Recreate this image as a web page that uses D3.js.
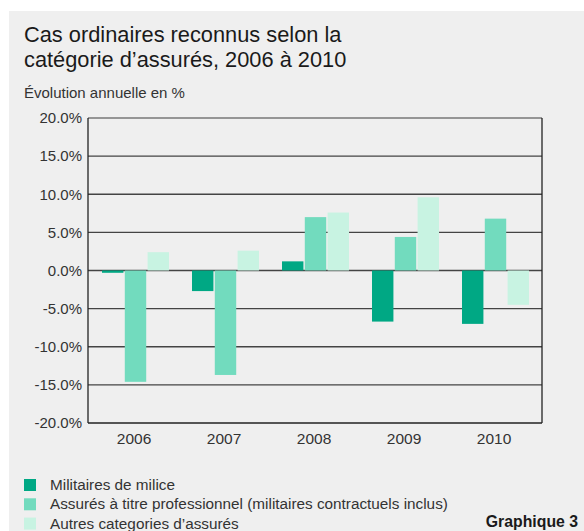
<!DOCTYPE html>
<html><head><meta charset="utf-8">
<script src="https://cdn.jsdelivr.net/npm/d3@7"></script>
<style>
html,body{margin:0;padding:0;background:#fff;}
svg text{font-family:"Liberation Sans",Arial,Helvetica,sans-serif;}
</style></head>
<body>
<svg id="c" width="584" height="531"></svg>
<script>
const years = ["2006","2007","2008","2009","2010"];
const seriesNames = ["Militaires de milice","Assurés à titre professionnel (militaires contractuels inclus)","Autres categories d’assurés"];
const milice = [-0.3,-2.7,1.2,-6.7,-7.0];
const professionnel = [-14.6,-13.7,7.0,4.4,6.8];
const autres = [2.4,2.6,7.6,9.6,-4.5];
const yTicks = [-20,-15,-10,-5,0,5,10,15,20];
const colors = ["#00a884","#72dbbe","#c8f3e2"];

const series = [milice, professionnel, autres];
const svg = d3.select("#c");
svg.append("rect").attr("x",9).attr("y",11).attr("width",575).attr("height",520).attr("fill","#efefef");

svg.append("text").attr("x",24).attr("y",42).attr("font-size",21.8).attr("fill","#1a1a1a").text("Cas ordinaires reconnus selon la");
svg.append("text").attr("x",24).attr("y",66.5).attr("font-size",21.8).attr("fill","#1a1a1a").text("catégorie d’assurés, 2006 à 2010");
svg.append("text").attr("x",24).attr("y",98).attr("font-size",15).attr("fill","#333").text("Évolution annuelle en %");

const L=88, R=542, T=118, B=423;
const y = d3.scaleLinear().domain([-20,20]).range([B,T]);
const x0 = d3.scaleBand().domain(years).range([89,539]).paddingInner(0).paddingOuter(0);
const groupW = 67;
const x1 = d3.scaleBand().domain([0,1,2]).range([0,groupW]).paddingInner(0.06);

// gridlines
svg.append("g").selectAll("line").data(yTicks.filter(d=>d>-20)).join("line")
  .attr("x1",L).attr("x2",R).attr("y1",d=>y(d)).attr("y2",d=>y(d))
  .attr("stroke",d=>d===20?"#777":"#444").attr("stroke-width",1.3);

// bars
const off = (x0.bandwidth()-groupW)/2 + 1.5;
const g = svg.append("g");
years.forEach((yr,i)=>{
  series.forEach((s,j)=>{
    const v=s[i];
    g.append("rect").attr("x",x0(yr)+off+x1(j)).attr("width",x1.bandwidth())
      .attr("y",y(Math.max(0,v))).attr("height",Math.abs(y(v)-y(0)))
      .attr("fill",colors[j]);
  });
});

// axes frame
svg.append("line").attr("x1",L).attr("x2",L).attr("y1",T).attr("y2",B).attr("stroke","#222").attr("stroke-width",1.3);
svg.append("line").attr("x1",R).attr("x2",R).attr("y1",T).attr("y2",B).attr("stroke","#222").attr("stroke-width",1.3);
svg.append("line").attr("x1",L).attr("x2",R).attr("y1",B).attr("y2",B).attr("stroke","#222").attr("stroke-width",1.3);

const yAxis = d3.axisLeft(y).tickValues(yTicks).tickSize(0).tickPadding(6).tickFormat(d=>d.toFixed(1)+"%");
const ya = svg.append("g").attr("transform",`translate(${L},0)`).call(yAxis);
ya.select(".domain").remove();
ya.selectAll("text").attr("font-size",15).attr("fill","#333").attr("font-family","Liberation Sans, Arial, sans-serif");

const xAxis = d3.axisBottom(x0).tickSize(0).tickPadding(10);
const xa = svg.append("g").attr("transform",`translate(0,${B})`).call(xAxis);
xa.select(".domain").remove();
xa.selectAll("text").attr("font-size",15.5).attr("fill","#333").attr("font-family","Liberation Sans, Arial, sans-serif");

// legend
const lg = svg.append("g");
seriesNames.forEach((n,i)=>{
  const yy = 479 + i*19.3;
  lg.append("rect").attr("x",24).attr("y",yy).attr("width",12).attr("height",12).attr("fill",colors[i]);
  lg.append("text").attr("x",50).attr("y",yy+11).attr("font-size",15.3).attr("fill","#333").text(n);
});
svg.append("text").attr("x",578).attr("y",527).attr("text-anchor","end").attr("font-size",15.8).attr("font-weight","bold").attr("fill","#1a1a1a").text("Graphique 3");
</script>
</body></html>
